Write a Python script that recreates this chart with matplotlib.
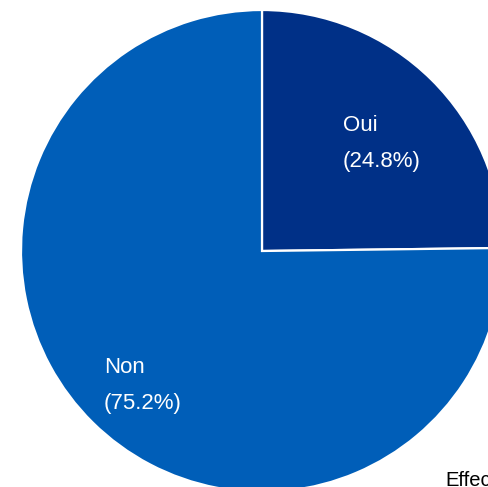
import matplotlib
matplotlib.use("Agg")
import matplotlib.pyplot as plt

categories = ["Oui", "Non"]
shares = [24.8, 75.2]
colors = ["#003087", "#005EB8"]

W, H = 489, 487
fig = plt.figure(figsize=(W / 100, H / 100), dpi=100)
ax = fig.add_axes([0, 0, 1, 1])

cx, cy, r = 262, H - 251, 241
ax.pie(shares, colors=colors, startangle=90, counterclock=False,
       center=(cx, cy), radius=r,
       wedgeprops=dict(edgecolor="white", linewidth=1.6))
ax.set_xlim(0, W)
ax.set_ylim(0, H)
ax.set_aspect("equal")
ax.axis("off")

font = dict(family=["Liberation Sans", "DejaVu Sans"], fontsize=16, color="white")
# baseline positions (pixels from top) of each two-line label
label_pos = {"Oui": (343, 131, 167), "Non": (104, 373, 409)}
for name, val in zip(categories, shares):
    x, y1, y2 = label_pos[name]
    ax.text(x, H - y1, name, ha="left", va="baseline", **font)
    ax.text(x, H - y2, f"({val}%)", ha="left", va="baseline", **font)

ax.text(445, H - 486, "Effectif", ha="left", va="baseline",
        family=["Liberation Sans", "DejaVu Sans"], fontsize=14.5, color="black",
        clip_on=False)

fig.savefig("out.png", dpi=100)
